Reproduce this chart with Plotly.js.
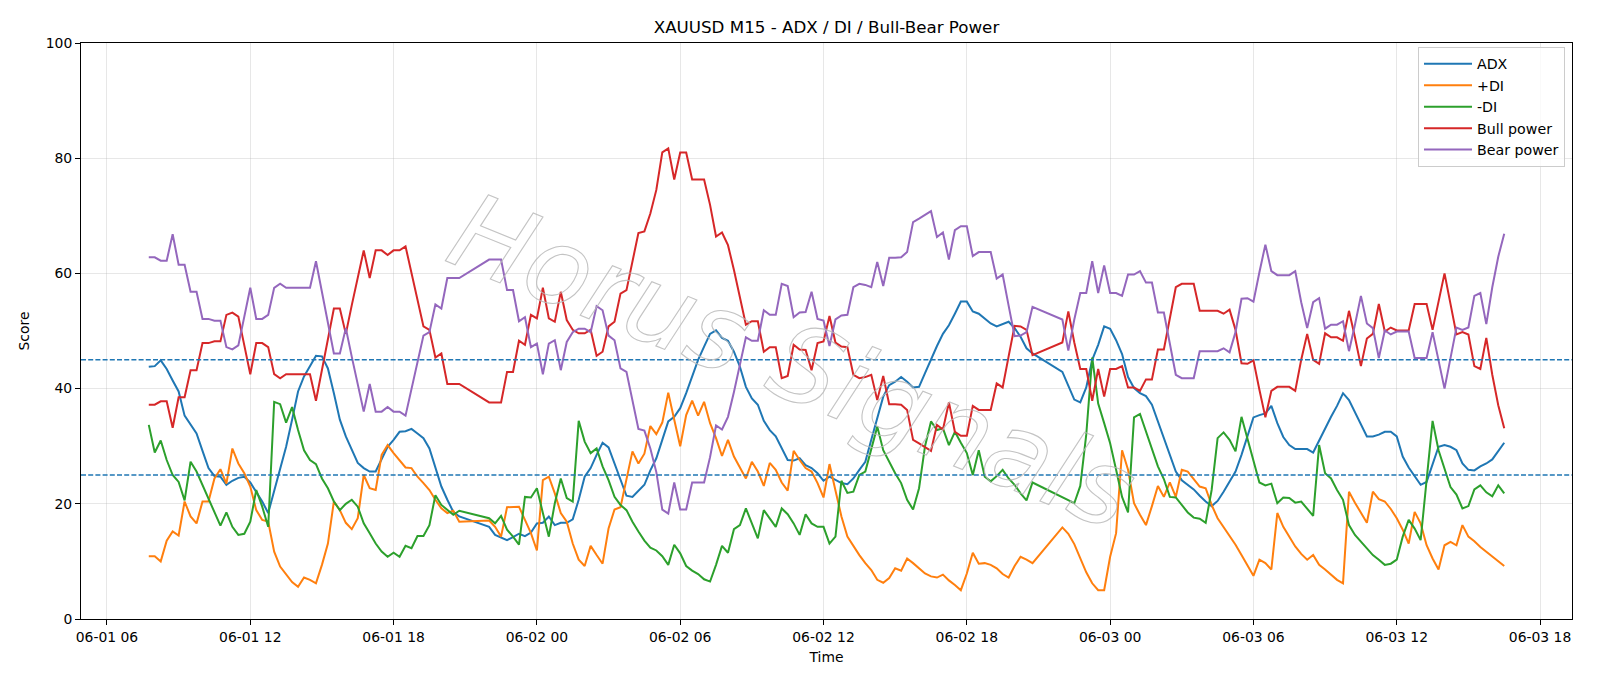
<!DOCTYPE html>
<html>
<head>
<meta charset="utf-8">
<script src="https://cdn.plot.ly/plotly-3.0.1.min.js"></script>
<style>
html, body { margin: 0; padding: 0; background: #ffffff; }
#chart { width: 1600px; height: 686px; }
</style>
</head>
<body>
<div id="chart"></div>
<script>
// ---- time axis: 15-minute bars (two stretches of bars are missing) ----
const firstBar = '2025-06-01T07:45:00';
const barMinutes = 15;
const barCount = 228;
const missingBars = [[53, 56], [149, 152]];

// ---- series values (one per available bar) ----
const adx = [
  43.8,43.9,44.9,43.4,41.4,39.5,35.3,33.7,32.2,29.2,26.2,24.8,24.7,23.3,24.0,24.5,24.7,23.7,22.1,20.4,
  18.4,22.1,26.2,29.9,34.6,39.5,42.1,43.8,45.7,45.6,43.5,39.2,34.6,31.7,29.3,27.1,26.2,25.6,25.6,27.9,
  29.9,31.1,32.5,32.6,33.0,32.2,31.4,29.6,26.5,23.0,20.7,18.6,17.8,
  16.0,14.6,14.2,13.7,14.2,14.8,14.4,15.0,16.6,16.7,17.8,16.3,16.7,16.7,17.3,20.7,24.7,26.2,28.5,30.6,
  29.8,27.0,24.1,21.4,21.2,22.3,23.3,25.8,
  27.9,31.1,34.3,35.1,36.6,39.2,42.1,45.0,47.3,49.5,50.1,48.8,48.3,46.4,43.8,40.3,38.3,37.2,34.4,32.8,
  31.7,29.6,27.6,27.5,27.9,26.7,26.2,25.3,24.0,24.7,24.1,23.6,23.4,24.4,25.9,27.3,31.1,35.1,38.6,40.6,
  41.2,42.0,41.2,40.2,40.3,
  42.7,45.1,47.4,49.5,51.0,53.0,55.1,55.1,53.4,53.0,52.2,51.3,50.8,51.2,51.6,50.5,49.0,47.0,46.1,
  42.9,40.6,38.1,37.6,40.2,45.0,47.6,50.8,50.4,48.4,46.0,42.0,40.1,39.2,38.7,37.2,34.3,31.4,28.8,25.6,
  24.1,23.3,22.5,21.4,20.4,19.6,20.5,22.1,23.9,25.6,28.5,31.7,35.0,35.4,35.7,37.0,34.0,31.6,30.2,29.5,
  29.5,29.5,28.9,31.0,33.1,35.1,37.0,39.2,38.0,35.8,33.7,31.7,31.7,32.0,32.5,32.5,
  31.7,28.2,26.3,24.7,23.3,23.8,27.0,29.9,30.2,29.9,29.3,27.0,25.9,25.8,26.5,27.0,27.7,29.2,30.6
];
const plusDI = [
  10.9,10.9,10.0,13.6,15.2,14.5,20.4,17.8,16.6,20.4,20.4,24.4,26.0,23.5,29.6,27.0,25.3,23.0,18.9,17.2,
  16.9,11.7,9.1,7.7,6.4,5.6,7.2,6.8,6.2,9.4,13.1,20.4,18.9,16.7,15.6,17.5,25.0,22.7,22.4,28.5,
  30.2,28.8,27.6,26.3,26.2,24.7,23.6,22.4,20.7,19.2,18.4,18.8,16.9,
  17.1,16.0,14.3,19.4,19.5,19.5,17.2,14.9,11.9,24.1,24.7,21.8,18.4,16.9,13.1,10.3,9.2,12.7,11.1,9.6,
  15.7,19.0,19.4,24.4,29.1,27.0,28.7,33.5,
  32.1,34.1,39.3,34.6,30.0,35.4,37.9,35.3,37.7,34.0,31.4,28.3,31.1,28.2,26.2,24.4,27.3,25.6,23.1,27.1,
  25.9,23.7,22.3,29.2,27.6,26.2,25.6,23.6,21.1,26.9,22.3,17.8,14.3,12.6,11.1,9.7,8.5,6.8,6.3,7.1,
  8.8,8.4,10.5,9.7,8.8,
  7.9,7.4,7.2,7.7,6.7,5.9,5.0,7.9,11.5,9.6,9.7,9.4,8.8,7.8,7.2,9.2,10.8,10.3,9.7,
  15.9,14.8,13.0,10.5,8.1,6.2,5.0,5.0,10.8,14.9,29.3,25.9,20.1,18.1,16.3,19.6,23.1,21.2,23.7,21.2,
  25.9,25.6,24.4,23.0,22.7,19.8,17.5,16.0,14.6,12.9,11.1,9.4,7.5,10.3,9.7,8.6,18.4,16.0,14.2,12.6,
  11.3,10.3,11.1,9.4,8.6,7.7,6.8,6.2,22.1,20.2,18.4,16.7,22.1,20.8,20.4,19.1,
  17.5,15.5,13.1,18.6,16.6,12.8,10.5,8.6,12.8,13.4,12.8,16.3,14.3,13.5,12.5,11.7,10.9,10.0,9.2
];
const minusDI = [
  33.7,28.9,31.0,27.6,25.0,23.8,20.6,27.3,25.6,23.3,21.0,18.6,16.2,18.5,16.0,14.6,14.8,16.9,22.4,19.5,
  16.0,37.7,37.3,34.1,36.8,32.8,29.3,27.6,26.9,24.4,22.7,20.4,18.9,20.0,20.7,19.5,16.6,14.9,13.1,11.7,
  10.8,11.5,10.8,12.7,12.3,14.4,14.4,16.3,21.5,19.8,18.9,18.1,18.8,
  17.5,16.6,17.9,15.5,14.3,12.9,21.2,21.1,22.7,18.4,14.3,20.1,24.4,21.0,20.4,34.4,30.8,28.8,29.6,26.5,
  24.1,21.2,19.8,18.9,16.9,15.2,13.6,12.4,
  11.9,10.9,9.4,12.9,11.4,9.2,8.4,7.8,6.9,6.5,9.4,12.7,11.5,15.6,16.3,19.2,16.6,14.0,18.9,17.5,
  16.0,19.2,18.2,16.6,14.6,18.2,16.6,16.0,16.0,13.1,14.3,24.0,21.9,22.1,25.0,25.6,29.3,33.4,29.3,27.3,
  25.3,23.6,20.7,19.0,22.7,
  30.0,34.3,32.8,33.1,30.2,32.5,30.6,28.8,25.0,29.3,24.7,23.9,24.8,25.9,24.4,23.3,21.8,20.6,23.7,
  21.2,20.7,20.1,23.1,32.0,45.4,37.4,34.0,30.5,25.9,21.2,18.5,35.0,35.6,32.5,29.3,26.5,24.3,21.2,21.1,
  19.8,18.5,17.6,17.4,16.7,22.4,31.4,32.4,31.1,29.1,35.1,31.4,27.3,23.7,23.2,23.5,20.1,21.1,21.0,20.2,
  20.4,19.2,17.9,30.2,25.3,24.4,22.4,20.7,16.3,14.6,13.4,12.3,11.1,10.3,9.4,9.6,10.3,14.3,17.2,15.7,
  13.7,24.1,34.4,29.3,
  26.2,22.9,21.6,19.2,19.6,22.5,23.2,22.0,21.3,23.2,21.8
];
const bullPower = [
  37.2,37.2,37.8,37.8,33.2,38.5,38.5,43.2,43.2,47.9,47.9,48.2,48.2,52.8,53.2,52.5,47.5,42.5,47.9,47.9,
  47.2,42.5,41.8,42.5,42.5,42.5,42.5,42.5,37.9,43.4,48.5,53.9,53.9,49.5,54.5,59.5,64.0,59.2,64.0,64.0,
  63.2,64.0,64.0,64.7,60.0,55.3,50.8,50.2,45.4,46.1,40.8,40.8,40.8,
  37.6,37.6,37.6,42.9,42.9,48.3,47.6,52.8,52.2,57.5,52.2,51.6,56.8,51.9,50.2,49.6,49.6,50.2,45.7,46.4,
  50.8,51.6,56.5,57.1,62.0,67.0,67.3,70.4,
  74.5,81.0,81.7,76.3,81.0,81.0,76.3,76.3,76.3,71.9,66.4,67.1,64.9,60.6,55.7,51.1,51.7,51.7,46.4,47.2,
  47.2,41.8,42.2,47.6,46.8,46.7,43.2,47.9,48.2,52.6,48.0,47.3,47.2,42.4,41.8,42.0,42.4,38.0,42.2,37.3,
  37.3,37.2,36.3,31.1,30.5,
  29.9,29.2,33.7,32.9,37.6,32.5,31.8,31.8,37.0,36.3,36.3,36.3,40.9,40.2,45.6,50.9,50.8,50.2,45.8,
  48.0,53.4,48.0,43.4,43.4,37.9,43.4,38.6,43.4,43.4,43.9,40.2,40.2,39.6,41.6,41.6,46.8,46.8,52.4,57.6,
  58.2,58.2,58.2,53.5,53.5,53.5,53.5,53.0,53.7,50.2,44.4,44.3,44.9,39.8,35.0,39.6,40.3,40.3,40.3,39.6,
  45.0,49.5,45.0,44.3,49.6,48.9,48.9,48.3,53.5,48.9,43.9,48.7,49.5,54.7,49.9,50.6,50.1,50.1,50.1,54.7,
  54.7,54.7,50.2,55.0,
  60.0,54.7,49.4,49.8,49.4,43.9,43.4,48.8,42.4,37.1,33.1
];
const bearPower = [
  62.8,62.8,62.2,62.2,66.8,61.5,61.5,56.8,56.8,52.1,52.1,51.8,51.8,47.2,46.8,47.5,52.5,57.5,52.1,52.1,
  52.8,57.5,58.2,57.5,57.5,57.5,57.5,57.5,62.1,56.6,51.5,46.1,46.1,50.5,45.5,40.5,36.0,40.8,36.0,36.0,
  36.8,36.0,36.0,35.3,40.0,44.7,49.2,49.8,54.6,53.9,59.2,59.2,59.2,
  62.4,62.4,62.4,57.1,57.1,51.7,52.4,47.2,47.8,42.5,47.8,48.4,43.2,48.1,49.8,50.4,50.4,49.8,54.3,53.6,
  49.2,48.4,43.5,42.9,38.0,33.0,32.7,29.6,
  25.5,19.0,18.3,23.7,19.0,19.0,23.7,23.7,23.7,28.1,33.6,32.9,35.1,39.4,44.3,48.9,48.3,48.3,53.6,52.8,
  52.8,58.2,57.8,52.4,53.2,53.3,56.8,52.1,51.8,47.4,52.0,52.7,52.8,57.6,58.2,58.0,57.6,62.0,57.8,62.7,
  62.7,62.8,63.7,68.9,69.5,
  70.1,70.8,66.3,67.1,62.4,67.5,68.2,68.2,63.0,63.7,63.7,63.7,59.1,59.8,54.4,49.1,49.2,49.8,54.2,
  52.0,46.6,52.0,56.6,56.6,62.1,56.6,61.4,56.6,56.6,56.1,59.8,59.8,60.4,58.4,58.4,53.2,53.2,47.6,42.4,
  41.8,41.8,41.8,46.5,46.5,46.5,46.5,47.0,46.3,49.8,55.6,55.7,55.1,60.2,65.0,60.4,59.7,59.7,59.7,60.4,
  55.0,50.5,55.0,55.7,50.4,51.1,51.1,51.7,46.5,51.1,56.1,51.3,50.5,45.3,50.1,49.4,49.9,49.9,49.9,45.3,
  45.3,45.3,49.8,45.0,
  40.0,45.3,50.6,50.2,50.6,56.1,56.6,51.2,57.6,62.9,66.9
];

const referenceLevels = [45, 25];
const seriesNames = ['ADX', '+DI', '-DI', 'Bull power', 'Bear power'];
const seriesColors = ['#1f77b4', '#ff7f0e', '#2ca02c', '#d62728', '#9467bd'];
const chartTitle = 'XAUUSD M15 - ADX / DI / Bull-Bear Power';
const xLabel = 'Time';
const yLabel = 'Score';
const watermarkText = 'Horus Signals';

function pad(n) { return String(n).padStart(2, '0'); }
function barTimes() {
  const t0 = new Date(firstBar + 'Z').getTime();
  const out = [];
  for (let k = 0; k < barCount; k++) {
    if (missingBars.some(([a, b]) => k >= a && k <= b)) continue;
    const d = new Date(t0 + k * barMinutes * 60000);
    out.push(d.getUTCFullYear() + '-' + pad(d.getUTCMonth() + 1) + '-' + pad(d.getUTCDate()) + ' ' +
             pad(d.getUTCHours()) + ':' + pad(d.getUTCMinutes()) + ':00');
  }
  return out;
}
const times = barTimes();
const seriesValues = [adx, plusDI, minusDI, bullPower, bearPower];

const traces = seriesValues.map((vals, i) => ({
  type: 'scatter', mode: 'lines', name: seriesNames[i],
  x: times, y: vals,
  line: { color: seriesColors[i], width: 2 }
}));

const gridColor = 'rgba(176,176,176,0.3)';
const layout = {
  width: 1600, height: 686,
  margin: { l: 81, r: 28, t: 43, b: 67 },
  paper_bgcolor: '#ffffff', plot_bgcolor: '#ffffff',
  font: { family: 'DejaVu Sans', size: 13.9, color: '#000000' },
  title: { text: chartTitle, font: { size: 16.7, color: '#000000' },
           xref: 'paper', x: 0.5, xanchor: 'center', yref: 'container', y: 0.9605, yanchor: 'middle' },
  showlegend: true,
  legend: { x: 0.9953, xanchor: 'right', y: 0.993, yanchor: 'top',
            bgcolor: 'rgba(255,255,255,0.8)', bordercolor: '#cccccc', borderwidth: 1,
            itemwidth: 48,
            font: { size: 14.2, color: '#000000' } },
  xaxis: {
    type: 'date', range: ['2025-06-01 04:54:45', '2025-06-03 19:20:15'],
    tick0: '2025-06-01 00:00:00', dtick: 6 * 3600 * 1000, tickformat: '%m-%d %H',
    showgrid: true, gridcolor: gridColor, gridwidth: 1, zeroline: false,
    showline: true, mirror: true, linecolor: '#000000', linewidth: 1,
    ticks: 'outside', ticklen: 5, tickwidth: 1, tickcolor: '#000000',
    tickfont: { size: 13.9 },
    title: { text: xLabel, font: { size: 13.9 }, standoff: 8 }
  },
  yaxis: {
    range: [0, 100], tick0: 0, dtick: 20,
    showgrid: true, gridcolor: gridColor, gridwidth: 1, zeroline: false,
    showline: true, mirror: true, linecolor: '#000000', linewidth: 1,
    ticks: 'outside', ticklen: 5, tickwidth: 1, tickcolor: '#000000',
    tickfont: { size: 13.9 },
    title: { text: yLabel, font: { size: 13.9 }, standoff: 12 }
  },
  shapes: referenceLevels.map(v => ({
    type: 'line', xref: 'paper', x0: 0, x1: 1, yref: 'y', y0: v, y1: v,
    line: { color: '#1f77b4', width: 1.4, dash: '5px,2.2px' }
  })),
  annotations: [{
    text: watermarkText, xref: 'paper', yref: 'paper', x: 0.477, y: 0.447,
    xanchor: 'center', yanchor: 'middle', showarrow: false, textangle: 22,
    font: { family: 'DejaVu Sans', size: 106, color: 'rgba(195,195,195,0.8)', style: 'italic' }
  }]
};

Plotly.newPlot('chart', traces, layout, { displayModeBar: false, staticPlot: true }).then(() => {
  document.querySelectorAll('.annotation-text').forEach(el => {
    el.style.setProperty('fill', 'none');
    el.style.setProperty('stroke', 'rgba(185,185,185,0.85)');
    el.style.setProperty('stroke-width', '1.1px');
  });
});
</script>
</body>
</html>
